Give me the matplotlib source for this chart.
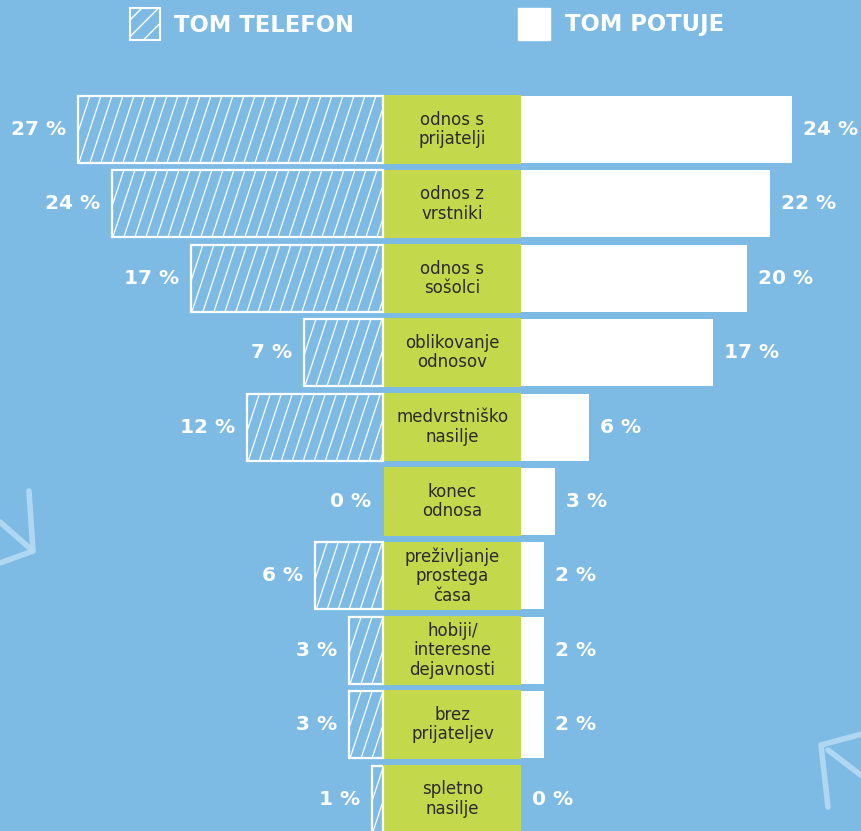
import numpy as np
import matplotlib
matplotlib.use("Agg")
from matplotlib import pyplot as plt
from matplotlib.patches import Rectangle
from matplotlib.lines import Line2D

# podatki
kategorije = ["odnos s\nprijatelji", "odnos z\nvrstniki", "odnos s\nsošolci",
              "oblikovanje\nodnosov", "medvrstniško\nnasilje", "konec\nodnosa",
              "preživljanje\nprostega\nčasa", "hobiji/\ninteresne\ndejavnosti",
              "brez\nprijateljev", "spletno\nnasilje"]
tom_telefon = [27, 24, 17, 7, 12, 0, 6, 3, 3, 1]
tom_potuje = [24, 22, 20, 17, 6, 3, 2, 2, 2, 0]
legenda = ["TOM TELEFON", "TOM POTUJE"]

BG = "#7dbbe5"
GREEN = "#c3d84a"
W, H = 862, 831
PX = 11.3          # px na odstotek
ROW = 74.4         # px med vrsticami
half = 137 / 2 / PX

plt.rcParams['font.family'] = ['DejaVu Sans']
plt.rcParams['hatch.linewidth'] = 1.0

fig = plt.figure(figsize=(W / 100, H / 100), dpi=100)
fig.patch.set_facecolor(BG)
ax = fig.add_axes([0, 0, 1, 1])
ax.set_facecolor(BG)
ax.axis('off')
ax.set_xlim(-452.5 / PX, 409.5 / PX)
ax.set_ylim((H - 129.5) / ROW, -129.5 / ROW)

y = np.arange(len(kategorije))
bh = 0.9

# sredinske zelene škatle
ax.barh(y, 2 * half, left=-half, height=0.92, color=GREEN, zorder=2)
for yi, k in zip(y, kategorije):
    ax.text(0, yi, k, ha='center', va='center', fontsize=12, color='#2b2b2b',
            linespacing=1.1, zorder=5)

# levo - TOM TELEFON (črtkano)
for yi, v in zip(y, tom_telefon):
    if v > 0:
        p = ax.barh(yi, -v, left=-half - 0.08, height=bh, facecolor='none',
                    edgecolor='white', linewidth=1.6, zorder=3)[0]
        x_l, x_r = -half - v, -half
        dx = 22 / PX
        for x0 in np.arange(x_l - dx, x_r + 0.1, 11 / PX):
            ln, = ax.plot([x0, x0 + dx], [yi + bh / 2, yi - bh / 2],
                          color='white', lw=0.9, zorder=3)
            ln.set_clip_path(p)
    ax.text(-half - v - 13 / PX, yi, f"{v} %", ha='right', va='center',
            fontsize=14.5, fontweight='bold', color='white')

# desno - TOM POTUJE
for yi, v in zip(y, tom_potuje):
    if v > 0:
        ax.barh(yi, v, left=half, height=bh, color='white', zorder=3)
    ax.text(half + v + 11 / PX, yi, f"{v} %", ha='left', va='center',
            fontsize=14.5, fontweight='bold', color='white')

# legenda
fig.patches.append(Rectangle((130 / W, 1 - 40 / H), 30 / W, 32 / H,
                             transform=fig.transFigure, facecolor='none',
                             edgecolor='white', hatch='//', linewidth=1.5))
fig.patches.append(Rectangle((518 / W, 1 - 40 / H), 32 / W, 32 / H,
                             transform=fig.transFigure, facecolor='white',
                             edgecolor='white'))
fig.text(174 / W, 1 - 25 / H, legenda[0], ha='left', va='center',
         fontsize=16.3, fontweight='bold', color='white')
fig.text(565 / W, 1 - 25 / H, legenda[1], ha='left', va='center',
         fontsize=16.3, fontweight='bold', color='white')

# okrasne puščice
chalk = dict(color='#b6dbf3', lw=4, solid_capstyle='round', alpha=0.9)
for pts in ([(29, 491), (33, 551), (0, 563)], [(0, 522), (33, 551)],
            [(862, 734), (821, 745), (828, 807)], [(828, 750), (862, 776)]):
    xs = [p[0] / W for p in pts]
    ys = [1 - p[1] / H for p in pts]
    fig.add_artist(Line2D(xs, ys, transform=fig.transFigure, **chalk))

fig.savefig("out.png", dpi=100, facecolor=BG)
